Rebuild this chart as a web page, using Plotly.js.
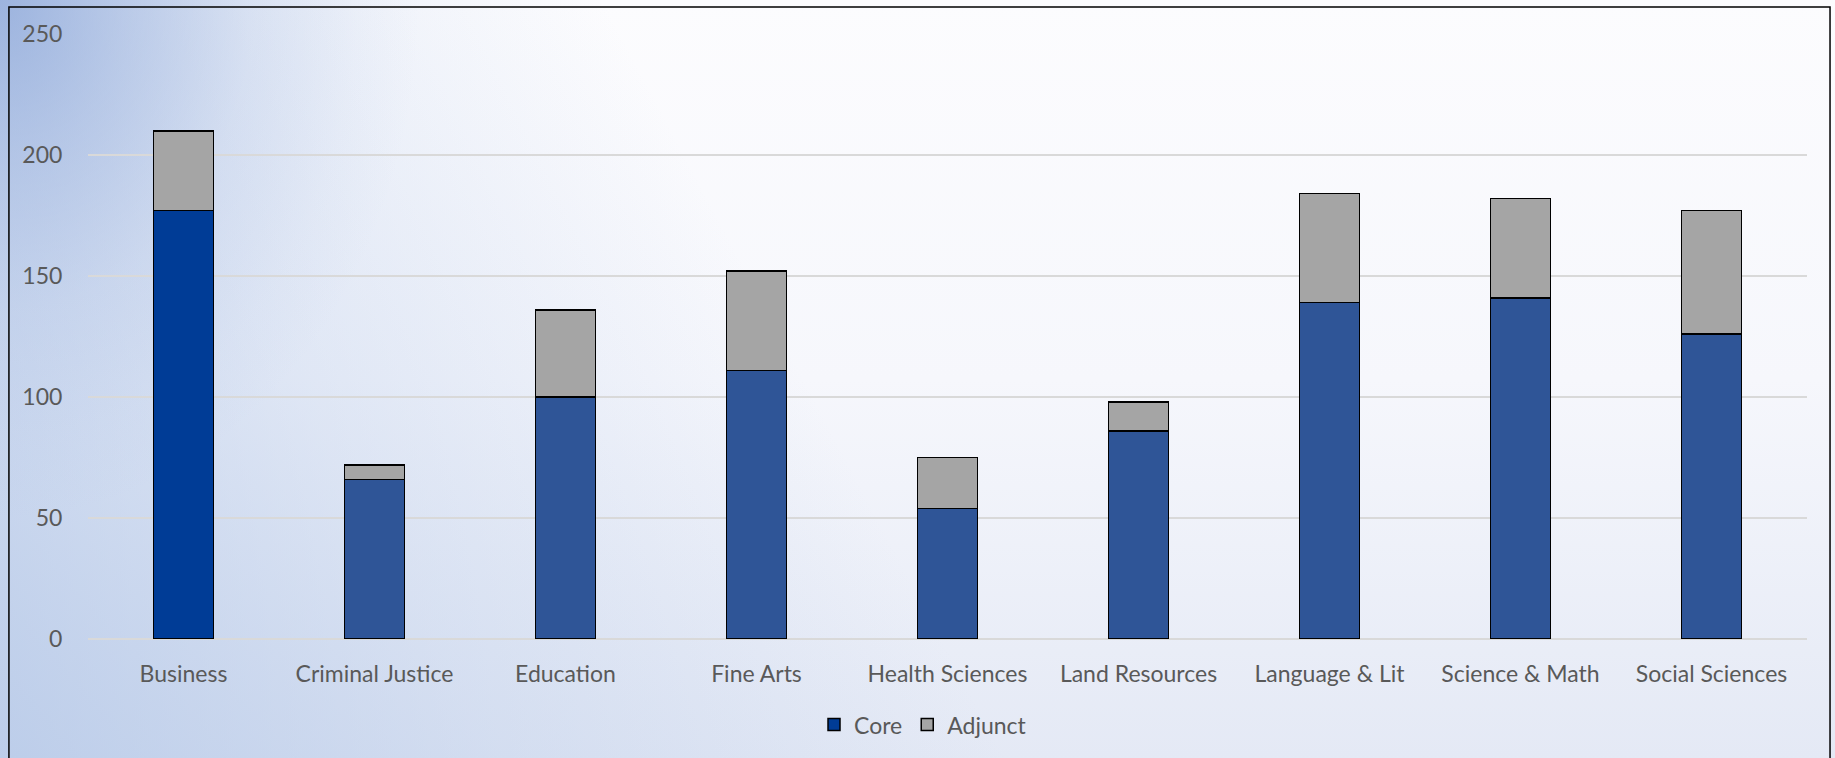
<!DOCTYPE html>
<html>
<head>
<meta charset="utf-8">
<script src="https://cdn.plot.ly/plotly-3.0.1.min.js"></script>
<style>
  html, body { margin: 0; padding: 0; }
  body { width: 1835px; height: 758px; overflow: hidden;
    background:
      radial-gradient(ellipse 420px 520px at 0% 0%, rgba(135,163,215,0.75) 0%, rgba(135,163,215,0.45) 30%, rgba(135,163,215,0.18) 60%, rgba(135,163,215,0.05) 85%, rgba(135,163,215,0) 100%),
      linear-gradient(62deg, rgba(175,196,230,0.75) 0%, rgba(175,196,230,0.33) 22%, rgba(175,196,230,0) 45%),
      linear-gradient(to bottom, #fcfcfe 0%, #f6f7fc 50%, #e4e9f5 100%);
  }
  #chart { width: 1835px; height: 758px; }
</style>
</head>
<body>
<div id="chart"></div>
<script>
const categories = ["Business", "Criminal Justice", "Education", "Fine Arts", "Health Sciences",
                    "Land Resources", "Language & Lit", "Science & Math", "Social Sciences"];
const coreValues    = [177, 66, 100, 111, 54, 86, 139, 141, 126];
const adjunctValues = [33, 6, 36, 41, 21, 12, 45, 41, 51];
const seriesNames = ["Core", "Adjunct"];
const yTicks = [0, 50, 100, 150, 200, 250];

const coreColors = categories.map((c, i) => i === 0 ? "#003C96" : "#2F5597");

const fontFam = "Lato, 'Open Sans', sans-serif";

const traces = [
  { type: "bar", name: seriesNames[0], x: categories, y: coreValues,
    marker: { color: coreColors, line: { color: "#000000", width: 1.5 } }, hoverinfo: "x+y" },
  { type: "bar", name: seriesNames[1], x: categories, y: adjunctValues,
    marker: { color: "#A5A5A5", line: { color: "#000000", width: 1.5 } }, hoverinfo: "x+y" }
];

const layout = {
  width: 1835, height: 758,
  barmode: "stack",
  bargap: 0.686,
  paper_bgcolor: "rgba(0,0,0,0)",
  plot_bgcolor: "rgba(0,0,0,0)",
  margin: { l: 88, r: 28, t: 34, b: 119 },
  font: { family: fontFam, size: 23, color: "#595959" },
  xaxis: {
    type: "category",
    tickfont: { family: fontFam, size: 23, color: "#595959" },
    ticks: "outside", ticklen: 14, tickcolor: "rgba(0,0,0,0)",
    showgrid: false, showline: false, zeroline: false
  },
  yaxis: {
    range: [0, 250],
    tickvals: yTicks,
    tickfont: { family: fontFam, size: 23, color: "#595959" },
    ticks: "outside", ticklen: 20, tickcolor: "rgba(0,0,0,0)",
    showgrid: true, gridcolor: "#D9D9D9", gridwidth: 1.5,
    zeroline: true, zerolinecolor: "#D9D9D9", zerolinewidth: 2,
    showline: false
  },
  legend: {
    orientation: "h",
    xref: "container", yref: "container",
    x: 0.503, xanchor: "center",
    y: 0.044, yanchor: "middle",
    font: { family: fontFam, size: 23, color: "#595959" },
    traceorder: "normal",
    itemwidth: 30,
    bgcolor: "rgba(0,0,0,0)"
  },
  shapes: [
    { type: "rect", xref: "paper", yref: "paper",
      x0: -0.046, x1: 1.0134, y0: -0.3, y1: 1.0446,
      line: { color: "#000000", width: 1.5 }, fillcolor: "rgba(0,0,0,0)", layer: "below" }
  ],
  showlegend: true
};

Plotly.newPlot("chart", traces, layout, { staticPlot: true, displayModeBar: false });
</script>
</body>
</html>
